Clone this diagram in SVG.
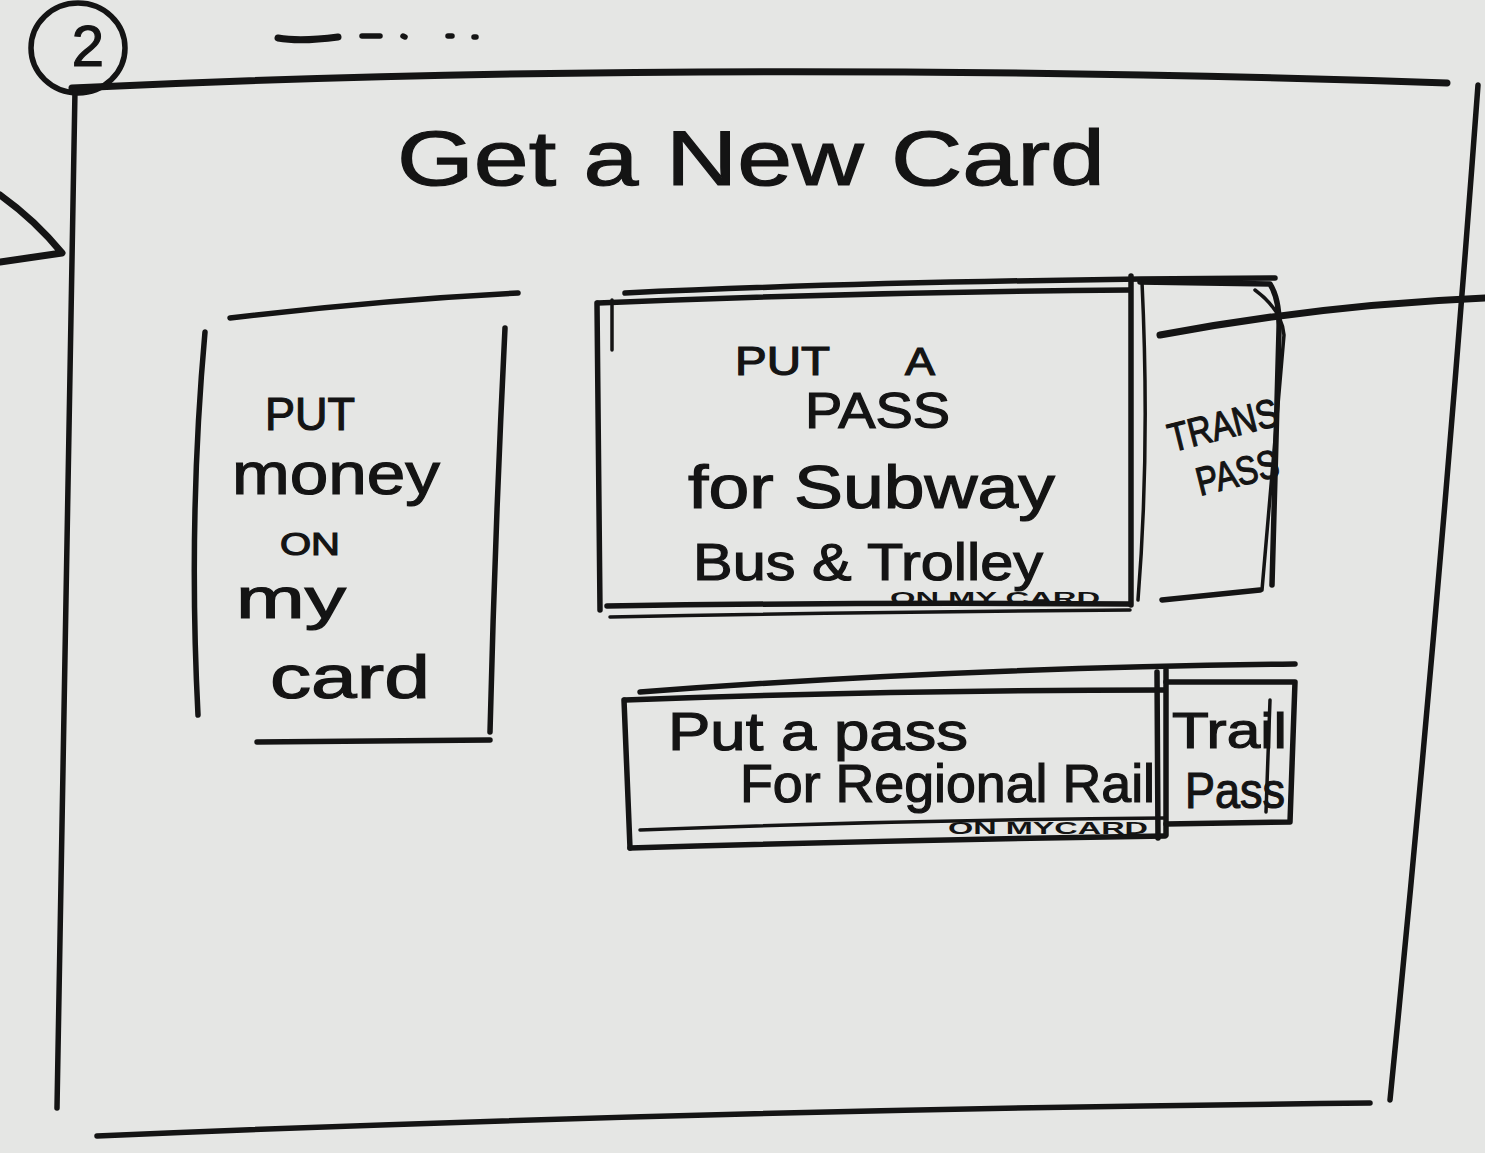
<svg xmlns="http://www.w3.org/2000/svg" width="1485" height="1153" viewBox="0 0 1485 1153">
<style>
.ln{fill:none;stroke:#141414;stroke-width:5.5;stroke-linecap:round;stroke-linejoin:round}
.w7{stroke-width:7}
.th{fill:none;stroke:#141414;stroke-width:3.5;stroke-linecap:round;stroke-linejoin:round}
.tx{font-family:"Liberation Sans","DejaVu Sans",sans-serif;fill:#141414;stroke:#141414;stroke-width:1.2}
.sm{font-family:"Liberation Sans","DejaVu Sans",sans-serif;fill:#141414;font-weight:bold}
</style>
<rect width="1485" height="1153" fill="#e5e6e4"/>
<g id="marker-2">
<ellipse cx="78" cy="48" rx="47" ry="45" class="ln"/>
<text x="88" y="66" class="tx" font-size="58" text-anchor="middle">2</text>
</g>
<g id="scribble">
<path d="M278,38 Q300,42 338,37" class="ln w7"/>
<path d="M362,36 L380,36" class="ln"/>
<path d="M403,36 L405,37 M448,36 L452,36 M474,37 L476,37" class="ln"/>
</g>
<g id="frame">
<path d="M72,88 Q700,58 1447,83" class="ln w7"/>
<path d="M75,90 Q68,600 57,1108" class="ln"/>
<path d="M97,1136 Q700,1110 1370,1103" class="ln"/>
<path d="M1478,85 Q1440,600 1390,1100" class="ln"/>
</g>
<g id="title">
<text x="397" y="185" class="tx" font-size="78" textLength="708" lengthAdjust="spacingAndGlyphs">Get a New Card</text>
</g>
<g id="card-money">
<path d="M230,318 Q380,300 518,293" class="ln"/>
<path d="M205,332 Q188,520 198,715" class="ln"/>
<path d="M505,328 Q495,530 490,732" class="ln"/>
<path d="M257,742 L490,740" class="ln"/>
<text x="265" y="430" class="tx" font-size="46" textLength="90" lengthAdjust="spacingAndGlyphs">PUT</text>
<text x="232" y="494" class="tx" font-size="60" textLength="208" lengthAdjust="spacingAndGlyphs">money</text>
<text x="280" y="555" class="tx" font-size="32" textLength="60" lengthAdjust="spacingAndGlyphs">ON</text>
<text x="236" y="618" class="tx" font-size="58" textLength="110" lengthAdjust="spacingAndGlyphs">my</text>
<text x="270" y="698" class="tx" font-size="62" textLength="160" lengthAdjust="spacingAndGlyphs">card</text>
</g>
<g id="card-subway">
<path d="M598,303 Q860,292 1130,290" class="ln"/>
<path d="M625,293 Q900,280 1275,278" class="ln"/>
<path d="M597,303 L600,610" class="ln"/>
<path d="M612,300 L612,350" class="th"/>
<path d="M607,606 Q860,602 1130,604" class="ln"/>
<path d="M610,617 Q860,612 1130,610" class="th"/>
<path d="M1131,276 L1131,605" class="ln"/>
<path d="M1142,282 Q1150,450 1138,600" class="th"/>
<path d="M1140,282 L1270,284 Q1280,300 1279,330 L1272,585" class="ln"/>
<path d="M1255,290 Q1282,310 1284,335 L1262,590" class="th"/>
<path d="M1162,600 L1260,590" class="ln"/>
<text x="735" y="375" class="tx" font-size="40" textLength="95" lengthAdjust="spacingAndGlyphs">PUT</text>
<text x="905" y="375" class="tx" font-size="38" textLength="30" lengthAdjust="spacingAndGlyphs">A</text>
<text x="805" y="428" class="tx" font-size="50" textLength="145" lengthAdjust="spacingAndGlyphs">PASS</text>
<text x="688" y="508" class="tx" font-size="62" textLength="367" lengthAdjust="spacingAndGlyphs">for Subway</text>
<text x="693" y="580" class="tx" font-size="52" textLength="350" lengthAdjust="spacingAndGlyphs">Bus &amp; Trolley</text>
<text x="890" y="604" class="sm" font-size="16" textLength="210" lengthAdjust="spacingAndGlyphs">ON MY CARD</text>
<text x="1172" y="452" class="tx" font-size="40" textLength="112" lengthAdjust="spacingAndGlyphs" transform="rotate(-14 1172 452)">TRANS</text>
<text x="1200" y="496" class="tx" font-size="40" textLength="84" lengthAdjust="spacingAndGlyphs" transform="rotate(-14 1200 496)">PASS</text>
</g>
<g id="card-rail">
<path d="M640,692 Q950,668 1295,664" class="ln"/>
<path d="M625,700 Q900,690 1165,690" class="ln"/>
<path d="M624,700 L630,848" class="ln"/>
<path d="M630,848 Q900,840 1165,836" class="ln"/>
<path d="M640,830 Q900,820 1165,818" class="th"/>
<path d="M1157,672 L1158,838" class="ln"/>
<path d="M1166,670 L1166,835" class="ln"/>
<path d="M1166,682 L1295,682 L1290,822 L1166,824" class="ln"/>
<path d="M1270,700 L1266,812" class="th"/>
<text x="668" y="750" class="tx" font-size="54" textLength="300" lengthAdjust="spacingAndGlyphs">Put a pass</text>
<text x="740" y="802" class="tx" font-size="54" textLength="415" lengthAdjust="spacingAndGlyphs">For Regional Rail</text>
<text x="948" y="834" class="sm" font-size="17" textLength="200" lengthAdjust="spacingAndGlyphs">ON MYCARD</text>
<text x="1172" y="748" class="tx" font-size="50" textLength="115" lengthAdjust="spacingAndGlyphs">Trail</text>
<text x="1185" y="808" class="tx" font-size="50" textLength="100" lengthAdjust="spacingAndGlyphs">Pass</text>
</g>
<g id="connectors">
<path d="M1160,335 Q1320,305 1485,298" class="ln w7"/>
<path d="M0,195 Q35,220 62,253 L0,262" class="ln w7"/>
</g>
</svg>
